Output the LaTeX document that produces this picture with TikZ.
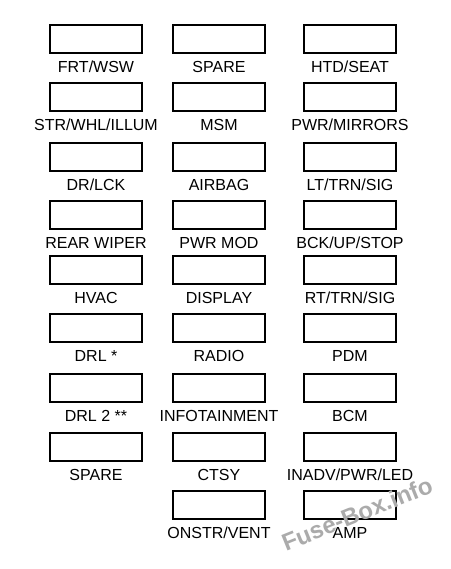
\documentclass[tikz,border=0pt]{standalone}
\usepackage{fontspec}
\setmainfont{Liberation Sans}
\begin{document}
\begin{tikzpicture}[x=1pt,y=-1pt,
  fuse/.style={draw=black,line width=1.4pt,minimum width=92pt,minimum height=28pt,inner sep=0pt,fill=white},
  flabel/.style={font=\fontsize{16}{19}\selectfont,inner sep=0pt,anchor=center},
  wmark/.style={font=\fontsize{24}{28}\selectfont\bfseries,text=black!33,rotate=22,inner sep=0pt}]
\useasboundingbox (0,0) rectangle (450,569);
\fill[white] (0,0) rectangle (450,569);
% helper: \fz{name}{x}{ytop}{label}
\newcommand{\fz}[4]{%
  \node[fuse] (#1) at (#2,#3+14) {};
  \node[flabel] (#1l) at (#2,#3+42) {#4};
}
% column 1
\fz{a1}{96}{25}{FRT/WSW}
\fz{a2}{96}{83}{STR/WHL/ILLUM}
\fz{a3}{96}{143}{DR/LCK}
\fz{a4}{96}{201}{REAR WIPER}
\fz{a5}{96}{256}{HVAC}
\fz{a6}{96}{314}{DRL *}
\fz{a7}{96}{374}{DRL 2 **}
\fz{a8}{96}{433}{SPARE}
% column 2
\fz{b1}{219}{25}{SPARE}
\fz{b2}{219}{83}{MSM}
\fz{b3}{219}{143}{AIRBAG}
\fz{b4}{219}{201}{PWR MOD}
\fz{b5}{219}{256}{DISPLAY}
\fz{b6}{219}{314}{RADIO}
\fz{b7}{219}{374}{INFOTAINMENT}
\fz{b8}{219}{433}{CTSY}
\fz{b9}{219}{491}{ONSTR/VENT}
% column 3
\fz{c1}{350}{25}{HTD/SEAT}
\fz{c2}{350}{83}{PWR/MIRRORS}
\fz{c3}{350}{143}{LT/TRN/SIG}
\fz{c4}{350}{201}{BCK/UP/STOP}
\fz{c5}{350}{256}{RT/TRN/SIG}
\fz{c6}{350}{314}{PDM}
\fz{c7}{350}{374}{BCM}
\fz{c8}{350}{433}{INADV/PWR/LED}
\fz{c9}{350}{491}{AMP}
% watermark
\node[wmark] (wm) at (357,514) {Fuse-Box.info};
\end{tikzpicture}
\end{document}
